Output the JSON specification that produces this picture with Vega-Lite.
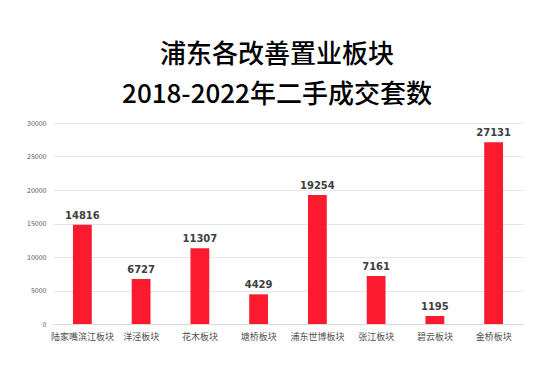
{
  "$schema": "https://vega.github.io/schema/vega-lite/v6.json",
  "autosize": {"type": "none"},
  "width": 470,
  "height": 201,
  "padding": {"left": 53, "top": 123, "right": 30, "bottom": 58},
  "background": "#ffffff",
  "config": {"view": {"stroke": null}, "font": "Noto Sans CJK SC"},
  "title": {
    "text": ["浦东各改善置业板块", "2018-2022年二手成交套数"],
    "fontSize": 26,
    "fontWeight": 500,
    "lineHeight": 40,
    "color": "#000000",
    "anchor": "middle",
    "dx": -11,
    "offset": 11,
    "font": "Noto Sans CJK SC"
  },
  "data": {
    "values": [
      {"板块": "陆家嘴滨江板块", "套数": 14816},
      {"板块": "洋泾板块", "套数": 6727},
      {"板块": "花木板块", "套数": 11307},
      {"板块": "塘桥板块", "套数": 4429},
      {"板块": "浦东世博板块", "套数": 19254},
      {"板块": "张江板块", "套数": 7161},
      {"板块": "碧云板块", "套数": 1195},
      {"板块": "金桥板块", "套数": 27131}
    ]
  },
  "encoding": {
    "x": {
      "field": "板块",
      "type": "nominal",
      "sort": null,
      "scale": {"paddingInner": 0.68, "paddingOuter": 0.34},
      "axis": {
        "title": null,
        "labelAngle": 0,
        "labelFontSize": 9,
        "labelColor": "#505050",
        "labelPadding": 8,
        "ticks": false,
        "domainColor": "#d9d9d9",
        "domainWidth": 1
      }
    },
    "y": {
      "field": "套数",
      "type": "quantitative",
      "scale": {"domain": [0, 30000]},
      "axis": {
        "title": null,
        "values": [0, 5000, 10000, 15000, 20000, 25000, 30000],
        "format": "d",
        "labelFontSize": 7,
        "labelColor": "#595959",
        "labelPadding": 7,
        "ticks": false,
        "domain": false,
        "gridColor": "#e6e6e6",
        "gridWidth": 1
      }
    }
  },
  "layer": [
    {"mark": {"type": "bar", "color": "#FC1A2E"}},
    {
      "mark": {"type": "text", "baseline": "bottom", "dy": -4, "fontSize": 10, "fontWeight": "bold", "color": "#404040", "font": "DejaVu Sans"},
      "encoding": {"text": {"field": "套数", "type": "quantitative", "format": "d"}}
    }
  ]
}
